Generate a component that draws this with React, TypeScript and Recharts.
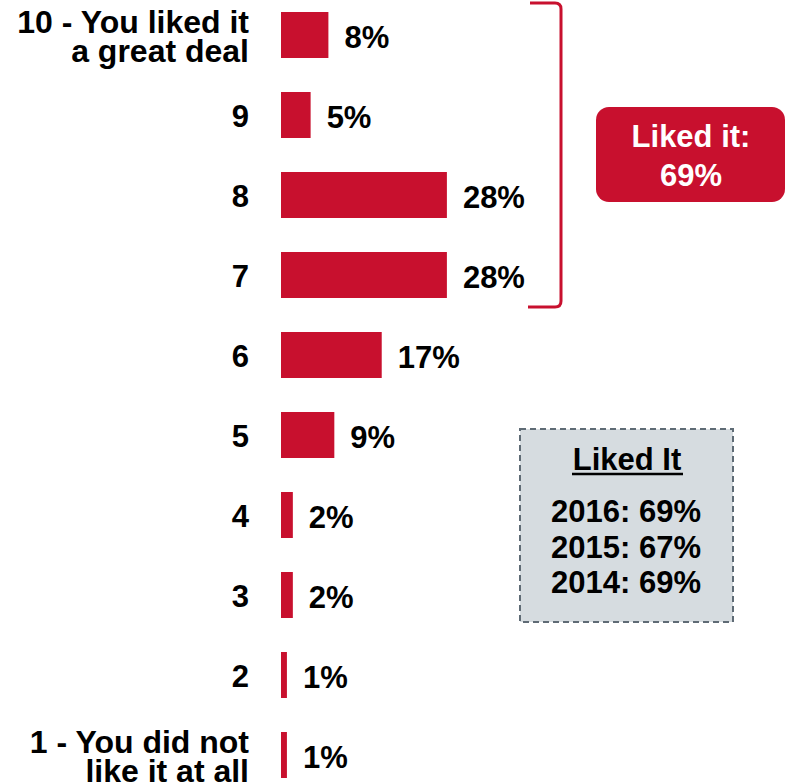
import { BarChart, Bar, XAxis, YAxis, LabelList } from 'recharts'

const RED = '#C8102E'
const FONT = '"Liberation Sans", Arial, sans-serif'

const categories = [
  '10 - You liked it\na great deal',
  '9',
  '8',
  '7',
  '6',
  '5',
  '4',
  '3',
  '2',
  '1 - You did not\nlike it at all',
]
const shares = [8, 5, 28, 28, 17, 9, 2, 2, 1, 1]

const likedTotal = ['Liked it:', '69%']
const likedTitle = 'Liked It'
const likedYears = ['2016: 69%', '2015: 67%', '2014: 69%']

const data = categories.map((label, i) => ({ label, value: shares[i] }))

function CategoryTick(props: any) {
  const { x, y, payload } = props
  const lines = String(payload.value).split('\n')
  if (lines.length === 1) {
    return (
      <text x={x} y={y + 12} textAnchor="end" fontSize={31} fontWeight={700} fill="#000">
        {lines[0]}
      </text>
    )
  }
  return (
    <text textAnchor="end" fontSize={32} fontWeight={700} fill="#000">
      <tspan x={x} y={y - 2}>{lines[0]}</tspan>
      <tspan x={x} y={y + 27}>{lines[1]}</tspan>
    </text>
  )
}

function Annotations() {
  return (
    <svg
      width={786}
      height={783}
      style={{ position: 'absolute', left: 0, top: 0, pointerEvents: 'none' }}
    >
      {/* bracket over 7..10 */}
      <path
        d="M 530 3 H 555 Q 561 3 561 9 V 301 Q 561 307 555 307 H 528"
        fill="none"
        stroke={RED}
        strokeWidth={3}
      />
      <rect x={596} y={107} width={189} height={95} rx={13} fill={RED} />
      <text x={691} y={147} textAnchor="middle" fontSize={31} fontWeight={700} fill="#fff">
        {likedTotal[0]}
      </text>
      <text x={691} y={186} textAnchor="middle" fontSize={31} fontWeight={700} fill="#fff">
        {likedTotal[1]}
      </text>

      <rect
        x={520}
        y={429}
        width={213}
        height={193}
        fill="#D6DCE0"
        stroke="#5F6B75"
        strokeWidth={2}
        strokeDasharray="6 4"
      />
      <text x={627} y={470} textAnchor="middle" fontSize={31} fontWeight={700} fill="#000">
        {likedTitle}
      </text>
      <line x1={572} x2={683} y1={474} y2={474} stroke="#000" strokeWidth={2.5} />
      {likedYears.map((t, i) => (
        <text
          key={t}
          x={626}
          y={522 + i * 35.5}
          textAnchor="middle"
          fontSize={31}
          fontWeight={700}
          fill="#000"
        >
          {t}
        </text>
      ))}
    </svg>
  )
}

export default function App() {
  return (
    <div
      style={{
        position: 'absolute',
        left: 0,
        top: 0,
        width: 786,
        height: 783,
        overflow: 'hidden',
        background: '#fff',
        fontFamily: FONT,
      }}
    >
      <div style={{ position: 'absolute', left: 0, top: -5 }}>
        <BarChart
          width={786}
          height={800}
          data={data}
          layout="vertical"
          margin={{ top: 0, right: 31, bottom: 0, left: 0 }}
        >
          <XAxis type="number" domain={[0, 80]} hide />
          <YAxis
            type="category"
            dataKey="label"
            width={281}
            tickSize={0}
            tickMargin={32}
            axisLine={false}
            tickLine={false}
            interval={0}
            tick={<CategoryTick />}
          />
          <Bar dataKey="value" fill={RED} barSize={46} isAnimationActive={false}>
            <LabelList
              dataKey="value"
              position="right"
              offset={16}
              formatter={(v: any) => `${v}%`}
              fill="#000"
              fontSize={31}
              fontWeight={700}
              dy={2}
            />
          </Bar>
        </BarChart>
      </div>
      <Annotations />
    </div>
  )
}
